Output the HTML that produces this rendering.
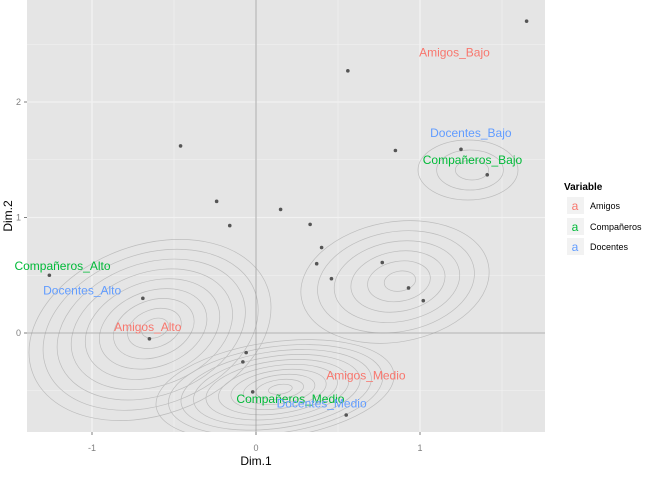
<!DOCTYPE html>
<html><head><meta charset="utf-8"><style>
body{margin:0;background:#fff;font-family:"Liberation Sans","Noto Sans CJK JP",sans-serif}
svg text{font-family:"Liberation Sans","Noto Sans CJK JP",sans-serif}
</style></head><body>
<svg id="c" width="646" height="476" viewBox="0 0 646 476" xmlns="http://www.w3.org/2000/svg">
<rect x="27" y="0" width="518" height="432" fill="#e5e5e5"/>
<g id="grid"></g><g id="contours"></g><g id="axes"></g><g id="pts"></g><g id="labels"></g>
<text x="256" y="465" font-size="12" text-anchor="middle" fill="#000">Dim.1</text>
<text x="12" y="216" font-size="12" text-anchor="middle" fill="#000" transform="rotate(-90 12 216)">Dim.2</text>
<g>
<text x="564" y="190" font-size="10" font-weight="bold" fill="#000">Variable</text>
<g><rect x="567" y="197" width="17" height="17" fill="#f2f2f2"/><text x="575" y="210" font-size="12" text-anchor="middle" fill="#F8766D">a</text><text x="590" y="209" font-size="9" fill="#000">Amigos</text></g>
<g><rect x="567" y="218" width="17" height="17" fill="#f2f2f2"/><text x="575" y="231" font-size="12" text-anchor="middle" fill="#00BA38">a</text><text x="590" y="230" font-size="9" fill="#000">Compañeros</text></g>
<g><rect x="567" y="238" width="17" height="17" fill="#f2f2f2"/><text x="575" y="251" font-size="12" text-anchor="middle" fill="#619CFF">a</text><text x="590" y="250" font-size="9" fill="#000">Docentes</text></g>
</g>
</svg>
<script>
const xTicks=[-1,0,1];
const yTicks=[0,1,2];
const ptX=[1.65,0.56,-0.46,0.85,1.25,1.41,-0.24,-0.16,0.15,0.33,0.40,0.37,0.46,0.77,0.93,1.02,-0.69,-1.26,-0.65,-0.06,-0.08,-0.02,0.55];
const ptY=[2.70,2.27,1.62,1.58,1.59,1.37,1.14,0.93,1.07,0.94,0.74,0.60,0.47,0.61,0.39,0.28,0.30,0.50,-0.05,-0.17,-0.25,-0.51,-0.71];
const labText=["Amigos_Bajo","Docentes_Bajo","Compañeros_Bajo","Compañeros_Alto","Docentes_Alto","Amigos_Alto","Amigos_Medio","Compañeros_Medio","Docentes_Medio"];
const labX=[1.21,1.31,1.32,-1.18,-1.06,-0.66,0.67,0.21,0.40];
const labY=[2.43,1.73,1.50,0.58,0.37,0.05,-0.37,-0.57,-0.61];
const labGroup=[0,2,1,1,2,0,0,1,2];
const groupColors=["#F8766D","#00BA38","#619CFF"];
const NS="http://www.w3.org/2000/svg";
const X0=27,X1=545,Y0=0,Y1=432;
const sx=v=>256+v*164, sy=v=>333-v*115.5;
function mk(tag,attrs,parent){const e=document.createElementNS(NS,tag);for(const k in attrs)e.setAttribute(k,attrs[k]);parent.appendChild(e);return e;}
const grid=document.getElementById('grid');
for(let v=-1.5;v<=2;v+=0.5){const x=sx(v);if(x>X0&&x<X1){const l=mk('line',{x1:x,x2:x,y1:Y0,y2:Y1,stroke:'#f2f2f2','stroke-width':Number.isInteger(v)?1.3:0.6},grid);

}}
for(let v=-0.5;v<=3;v+=0.5){const y=sy(v);if(y>Y0&&y<Y1){const l=mk('line',{x1:X0,x2:X1,y1:y,y2:y,stroke:'#f2f2f2','stroke-width':Number.isInteger(v)?1.3:0.6},grid);

}}
const ax=document.getElementById('axes');
const vl=mk('line',{x1:sx(0),x2:sx(0),y1:Y0,y2:Y1,stroke:'#999','stroke-width':0.8},ax);


const hl=mk('line',{x1:X0,x2:X1,y1:sy(0),y2:sy(0),stroke:'#999','stroke-width':0.8},ax);


xTicks.forEach(v=>{const x=sx(v);mk('line',{x1:x,x2:x,y1:Y1,y2:Y1+3,stroke:'#7f7f7f'},ax);const t=mk('text',{x:x,y:451,'font-size':9,'text-anchor':'middle',fill:'#7f7f7f'},ax);t.textContent=v;

});
yTicks.forEach(v=>{const y=sy(v);mk('line',{x1:X0-3,x2:X0,y1:y,y2:y,stroke:'#7f7f7f'},ax);const t=mk('text',{x:X0-6,y:y+3,'font-size':9,'text-anchor':'end',fill:'#7f7f7f'},ax);t.textContent=v;

});
// density contours (approximate shapes)
const cg=document.getElementById('contours');
const blobs=[[150,330,125,85,-20,9],[275,390,120,48,-8,10],[395,282,95,60,-10,6],[468,170,50,30,0,3]];
const clip=mk('clipPath',{id:'pc'},cg);mk('rect',{x:X0,y:Y0,width:X1-X0,height:Y1-Y0},clip);
const cgi=mk('g',{'clip-path':'url(#pc)'},cg);
blobs.forEach(b=>{for(let i=1;i<=b[5];i++){const f=i/b[5];const e=mk('ellipse',{cx:b[0]+(1-f)*6,cy:b[1],rx:b[2]*f,ry:b[3]*f,fill:'none',stroke:'#bdbdbd','stroke-width':0.7,transform:`rotate(${b[4]} ${b[0]} ${b[1]})`},cgi);

}});
const pg=document.getElementById('pts');
ptX.forEach((v,i)=>{const c=mk('circle',{cx:sx(v),cy:sy(ptY[i]),r:1.8,fill:'#555'},pg);

});
const lg=document.getElementById('labels');
labText.forEach((s,i)=>{const t=mk('text',{x:sx(labX[i]),y:sy(labY[i])+4,'font-size':12,'text-anchor':'middle',fill:groupColors[labGroup[i]]},lg);t.textContent=s;

});
</script>
</body></html>
